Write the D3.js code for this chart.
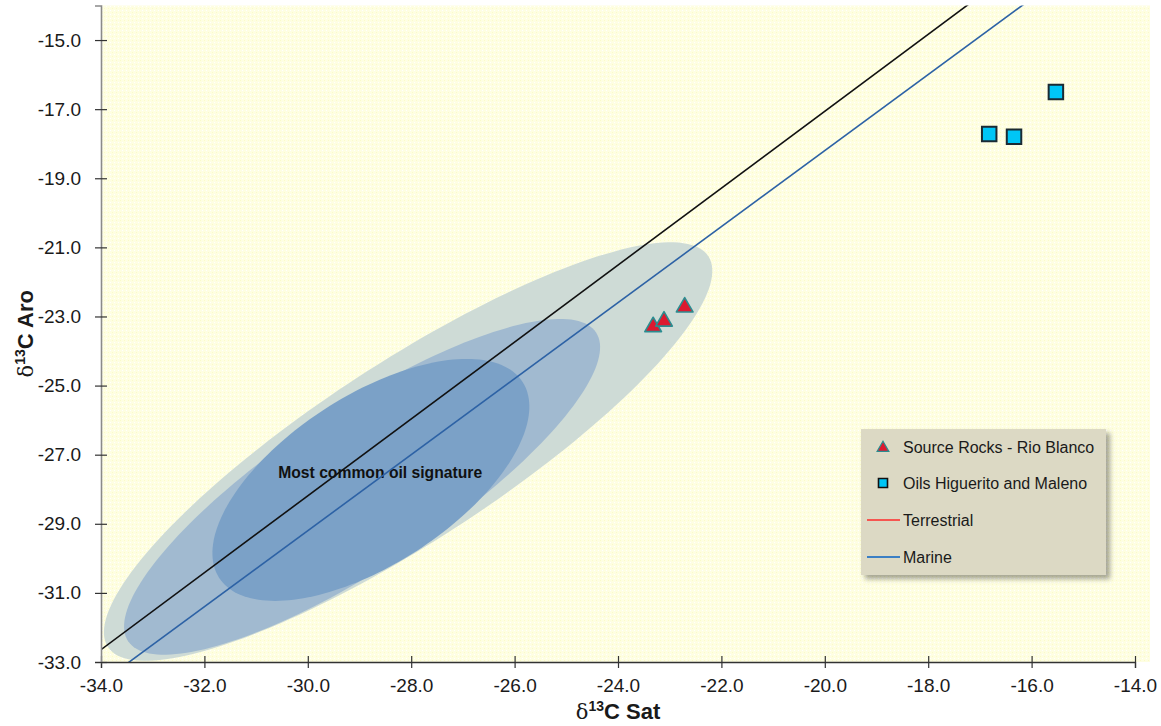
<!DOCTYPE html>
<html><head><meta charset="utf-8">
<script src="https://cdn.jsdelivr.net/npm/d3@7"></script>
<style>body{margin:0;background:#fff;}svg{display:block;}text{font-family:Arial,"Liberation Sans",sans-serif;}</style>
</head><body>
<script>
// ---- data ----
const xTicks = [-34, -32, -30, -28, -26, -24, -22, -20, -18, -16, -14];
const yTicks = [-33, -31, -29, -27, -25, -23, -21, -19, -17, -15];
const sourceRocksSat = [-23.32, -23.11, -22.71];
const sourceRocksAro = [-23.30, -23.14, -22.73];
const oilsSat = [-16.82, -16.34, -15.53];
const oilsAro = [-17.72, -17.80, -16.50];
// dividing lines: Aro = slope * Sat + intercept
const lineNames = ["Terrestrial", "Marine"];
const lineSlopes = [1.113, 1.10];
const lineIntercepts = [5.2, 3.8];
// signature ellipses (centre and conjugate semi-axes, in delta units)
const ellCx = [-28.06, -28.95, -28.78];
const ellCy = [-26.91, -27.93, -27.73];
const ellUx = [5.808, 4.526, 2.934];
const ellUy = [5.651, 4.466, 2.836];
const ellVx = [0.944, 0.843, 0.887];
const ellVy = [-2.178, -1.914, -2.054];
const signatureLabel = "Most common oil signature";
const signatureLabelAt = [-28.6, -27.5];
const legendLabels = ["Source Rocks - Rio Blanco", "Oils Higuerito and Maleno", "Terrestrial", "Marine"];

const W = 1161, H = 726;
const L = 101, R = 1135, T = 5.5, B = 662;
const svg = d3.select("body").append("svg").attr("width", W).attr("height", H);
const defs = svg.append("defs");
defs.append("clipPath").attr("id", "clip").append("rect")
  .attr("x", L).attr("y", T).attr("width", R - L).attr("height", B - T);
const pat = defs.append("pattern").attr("id", "bgpat").attr("width", 4).attr("height", 4)
  .attr("patternUnits", "userSpaceOnUse");
pat.append("rect").attr("width", 4).attr("height", 4).attr("fill", "#fefee2");
pat.append("rect").attr("width", 1).attr("height", 1).attr("fill", "#fbfbc8");
pat.append("rect").attr("x", 2).attr("y", 2).attr("width", 1).attr("height", 1).attr("fill", "#ffffff");
const flt = defs.append("filter").attr("id", "shadow").attr("x", "-10%").attr("y", "-10%").attr("width", "130%").attr("height", "130%");
flt.append("feDropShadow").attr("dx", 4).attr("dy", 4).attr("stdDeviation", 2.5)
  .attr("flood-color", "#000").attr("flood-opacity", 0.35);

const x = d3.scaleLinear().domain([-34, -14]).range([L, R]);
const y = d3.scaleLinear().domain([-33, -14]).range([B, T]);

svg.append("rect").attr("x", L).attr("y", T).attr("width", 1150 - L).attr("height", B - T).attr("fill", "url(#bgpat)");

const plot = svg.append("g").attr("clip-path", "url(#clip)");

// ellipses
const ellColors = ["#cedbd6", "#a1bad0", "#7ba1c7"];
const ts = d3.range(0, 2 * Math.PI, Math.PI / 90);
const ellLine = d3.line().curve(d3.curveLinearClosed);
ellCx.forEach((cx, i) => {
  const pts = ts.map(t => [
    x(cx + ellUx[i] * Math.cos(t) + ellVx[i] * Math.sin(t)),
    y(ellCy[i] + ellUy[i] * Math.cos(t) + ellVy[i] * Math.sin(t))
  ]);
  plot.append("path").attr("d", ellLine(pts)).attr("fill", ellColors[i]);
});

// text
plot.append("text").attr("x", x(signatureLabelAt[0])).attr("y", y(signatureLabelAt[1]) + 6)
  .attr("text-anchor", "middle").attr("font-family", "Lato, 'Open Sans', sans-serif")
  .attr("font-weight", "bold").attr("font-size", 17).attr("fill", "#111")
  .attr("textLength", 204).attr("lengthAdjust", "spacingAndGlyphs")
  .text(signatureLabel);

// dividing lines
const lineColors = ["#111111", "#2d62a5"];
lineSlopes.forEach((m, i) => {
  plot.append("line")
    .attr("x1", x(-34)).attr("y1", y(m * -34 + lineIntercepts[i]))
    .attr("x2", x(-14)).attr("y2", y(m * -14 + lineIntercepts[i]))
    .attr("stroke", lineColors[i]).attr("stroke-width", 1.6);
});

// axes
const xAxis = svg.append("g").attr("transform", `translate(0,${B})`)
  .call(d3.axisBottom(x).tickValues(xTicks).tickFormat(d3.format(".1f")).tickSize(6).tickPadding(11));
xAxis.select(".domain").attr("stroke", "#333").attr("stroke-width", 1.3);
xAxis.selectAll(".tick line").attr("y1", -6).attr("y2", 6).attr("stroke", "#333").attr("stroke-width", 1.2);
xAxis.selectAll(".tick text").attr("font-size", 19).attr("fill", "#1a1a1a").attr("font-family", "Arial, 'Liberation Sans', sans-serif")
  .text(d => d3.format(".1f")(d).replace("−", "-"));

const yAxis = svg.append("g").attr("transform", `translate(${L},0)`)
  .call(d3.axisLeft(y).tickValues(yTicks).tickSize(6).tickPadding(14));
yAxis.select(".domain").attr("stroke", "#8a8a8a").attr("stroke-width", 1.6);
yAxis.selectAll(".tick line").attr("x1", -6).attr("x2", 6).attr("stroke", "#333").attr("stroke-width", 1.2);
yAxis.selectAll(".tick text").attr("font-size", 19).attr("fill", "#1a1a1a").attr("font-family", "Arial, 'Liberation Sans', sans-serif")
  .text(d => d3.format(".1f")(d).replace("−", "-"));

// axis titles
const xt = svg.append("text").attr("x", (L + R) / 2).attr("y", 719).attr("text-anchor", "middle")
  .attr("font-size", 22).attr("font-weight", "bold").attr("fill", "#1a1a1a");
xt.append("tspan").attr("font-family", "'DejaVu Serif', serif").attr("font-weight", "normal").attr("font-size", 21).text("δ");
xt.append("tspan").attr("font-size", 14).attr("dy", -8).text("13");
xt.append("tspan").attr("dy", 8).text("C Sat");

const yt = svg.append("text").attr("transform", `translate(33,${(T + B) / 2}) rotate(-90)`).attr("text-anchor", "middle")
  .attr("font-size", 22).attr("font-weight", "bold").attr("fill", "#1a1a1a");
yt.append("tspan").attr("font-family", "'DejaVu Serif', serif").attr("font-weight", "normal").attr("font-size", 21).text("δ");
yt.append("tspan").attr("font-size", 14).attr("dy", -8).text("13");
yt.append("tspan").attr("dy", 8).text("C Aro");

// points
const tri = d3.symbol().type(d3.symbolTriangle).size(120);
const sq = d3.symbol().type(d3.symbolSquare).size(210);
sourceRocksSat.forEach((s, i) => {
  svg.append("path").attr("d", tri()).attr("transform", `translate(${x(s)},${y(sourceRocksAro[i])})`)
    .attr("fill", "#dc1a30").attr("stroke", "#2b8c90").attr("stroke-width", 1.6).attr("stroke-linejoin", "round");
});
oilsSat.forEach((s, i) => {
  svg.append("path").attr("d", sq()).attr("transform", `translate(${x(s)},${y(oilsAro[i])})`)
    .attr("fill", "#00c6f6").attr("stroke", "#1b2a33").attr("stroke-width", 2);
});

// legend
const lg = svg.append("g");
lg.append("rect").attr("x", 861).attr("y", 429).attr("width", 245).attr("height", 146)
  .attr("fill", "#dcd9c4").attr("filter", "url(#shadow)");
const rowY = [447, 483, 520, 557];
legendLabels.forEach((lab, i) => {
  lg.append("text").attr("x", 903).attr("y", rowY[i] + 6).attr("font-size", 16).attr("fill", "#1a1a1a").text(lab);
});
lg.append("path").attr("d", d3.symbol().type(d3.symbolTriangle).size(60)()).attr("transform", `translate(883,${rowY[0] + 1})`)
  .attr("fill", "#dc1a30").attr("stroke", "#2b8c90").attr("stroke-width", 1.2);
lg.append("path").attr("d", d3.symbol().type(d3.symbolSquare).size(81)()).attr("transform", `translate(883,${rowY[1]})`)
  .attr("fill", "#00c6f6").attr("stroke", "#111").attr("stroke-width", 1.6);
lg.append("line").attr("x1", 867).attr("x2", 900).attr("y1", rowY[2]).attr("y2", rowY[2]).attr("stroke", "#ff2a2a").attr("stroke-width", 1.3);
lg.append("line").attr("x1", 867).attr("x2", 900).attr("y1", rowY[3]).attr("y2", rowY[3]).attr("stroke", "#3b7fc4").attr("stroke-width", 2);
</script>
</body></html>
